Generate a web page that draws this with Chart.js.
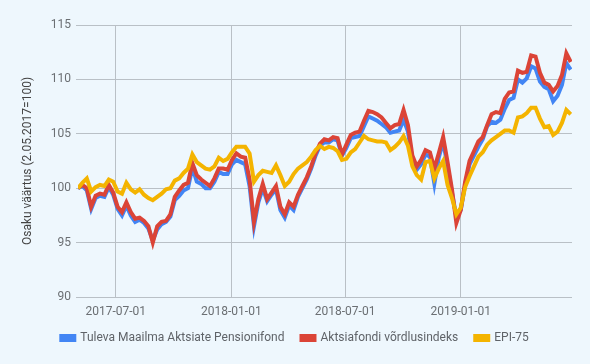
<!DOCTYPE html>
<html>
<head>
<meta charset="utf-8">
<script src="https://cdn.jsdelivr.net/npm/chart.js@4"></script>
<style>
  html, body { margin: 0; padding: 0; background: #eef7fd; }
  #wrap { width: 590px; height: 364px; }
</style>
</head>
<body>
<div id="wrap"><canvas id="chart" width="590" height="364"></canvas></div>
<script>
// weekly points starting 2017-05-02
const startDate = '2017-05-02';
const seriesNames = ['Tuleva Maailma Aktsiate Pensionifond', 'Aktsiafondi võrdlusindeks', 'EPI-75'];

const tuleva = [
  100.0, 100.2, 99.8, 98.1, 99.1, 99.3, 99.2, 100.1, 99.4, 98.1, 97.5, 98.4, 97.5, 96.9, 97.1, 96.8, 96.3, 95.2, 96.2, 96.7, 96.9, 97.4, 98.9,
  99.3, 99.8, 100.0, 101.9, 100.6, 100.4, 100.0, 100.0, 100.6, 101.5, 101.3, 101.3, 102.2, 102.6, 102.4, 102.2, 100.2, 96.5, 98.7, 100.0, 98.8, 99.4,
  99.9, 98.0, 97.3, 98.4, 98.0, 99.2, 100.0, 100.8, 101.8, 103.0, 103.9, 104.2, 104.2, 104.5, 104.4, 103.0, 103.7, 104.6, 104.7, 104.8, 105.7, 106.6, 106.4,
  106.2, 105.9, 105.6, 105.1, 105.2, 105.3, 106.3, 105.2, 102.6, 101.7, 102.2, 103.1, 102.9, 100.4, 102.8, 104.3, 102.0, 99.6, 97.4, 98.0, 100.3,
  102.2, 103.0, 103.8, 104.5, 105.7, 106.1, 106.0, 106.3, 107.3, 108.1, 108.3, 110.0, 109.7, 110.1, 111.2, 111.0, 109.8, 109.3, 109.1, 108.0, 108.5, 109.5, 111.5, 110.9
];

const vordlusindeks = [
  100.0, 100.3, 100.0, 98.3, 99.3, 99.5, 99.4, 100.3, 99.6, 98.3, 97.8, 98.7, 97.8, 97.2, 97.3, 97.0, 96.5, 95.0, 96.5, 96.9, 97.0, 97.6, 99.2,
  99.8, 100.3, 100.5, 102.3, 101.2, 100.8, 100.5, 100.2, 100.9, 101.8, 101.8, 101.7, 102.6, 103.2, 102.9, 102.8, 100.8, 96.9, 99.0, 100.4, 99.0, 99.6,
  100.2, 98.3, 97.6, 98.7, 98.3, 99.4, 100.2, 101.0, 102.0, 103.2, 104.1, 104.5, 104.4, 104.7, 104.6, 103.1, 104.0, 104.9, 105.1, 105.2, 106.2, 107.1, 107.0,
  106.8, 106.5, 106.0, 105.5, 105.8, 105.9, 107.2, 105.8, 103.0, 102.0, 102.6, 103.5, 103.3, 101.8, 103.2, 104.7, 102.4, 99.9, 96.8, 98.0, 100.6,
  102.5, 103.4, 104.3, 104.7, 105.8, 106.8, 107.0, 106.9, 108.2, 108.8, 108.9, 110.8, 110.6, 110.7, 112.2, 112.1, 110.6, 109.7, 109.5, 108.9, 109.4, 110.4, 112.4, 111.6
];

const epi75 = [
  100.0, 100.5, 100.9, 99.7, 100.1, 100.3, 100.2, 100.8, 100.6, 99.7, 99.5, 100.5, 99.9, 99.6, 99.9, 99.4, 99.1, 98.9, 99.2, 99.5, 99.9, 100.0, 100.7,
  100.9, 101.4, 101.8, 103.1, 102.4, 102.1, 101.8, 101.7, 102.0, 102.8, 102.5, 102.7, 103.3, 103.8, 103.8, 103.8, 103.2, 100.6, 101.2, 101.6, 101.5, 101.4,
  102.1, 101.2, 100.2, 100.6, 101.3, 101.8, 102.1, 102.4, 102.9, 103.5, 103.9, 103.6, 103.8, 103.7, 103.4, 102.6, 102.7, 103.3, 103.6, 104.2, 104.8, 104.5, 104.4,
  104.3, 104.3, 104.2, 103.5, 103.8, 104.2, 104.8, 103.9, 102.0, 101.2, 100.8, 102.4, 102.5, 100.9, 101.8, 102.5, 100.3, 99.1, 97.6, 98.2, 100.1,
  101.1, 102.0, 102.9, 103.3, 104.0, 104.4, 104.7, 105.0, 105.3, 105.3, 105.1, 106.5, 106.6, 106.9, 107.4, 107.4, 106.4, 105.6, 105.7, 104.9, 105.2, 106.0, 107.2, 106.8
];

const xTickLabels = ['2017-07-01', '2018-01-01', '2018-07-01', '2019-01-01'];
const yTicks = [90, 95, 100, 105, 110, 115];
const yTitle = 'Osaku väärtus (2.05.2017=100)';

const DAY = 86400000;
const dayOf = s => Math.round((Date.parse(s + 'T00:00:00Z') - Date.parse(startDate + 'T00:00:00Z')) / DAY);
const toPoints = arr => arr.map((v, i) => ({ x: i * 7, y: v }));

const gridColor = '#b9c0c6';
const font = { family: 'Roboto', size: 12 };

const ctx = document.getElementById('chart');
new Chart(ctx, {
    type: 'line',
    data: {
        datasets: [
            { label: seriesNames[0], data: toPoints(tuleva), borderColor: '#4285f4', backgroundColor: '#4285f4', order: 3 },
            { label: seriesNames[1], data: toPoints(vordlusindeks), borderColor: '#db4437', backgroundColor: '#db4437', order: 2 },
            { label: seriesNames[2], data: toPoints(epi75), borderColor: '#f4b400', backgroundColor: '#f4b400', order: 1 }
        ]
    },
    options: {
        responsive: false,
        animation: false,
        layout: { padding: { top: 25, right: 0, bottom: 10, left: 0 } },
        elements: {
            line: { borderWidth: 4, tension: 0, borderJoinStyle: 'miter' },
            point: { radius: 0 }
        },
        scales: {
            x: {
                type: 'linear',
                min: 0,
                max: 786,
                border: { display: false },
                grid: { color: gridColor, lineWidth: 1, drawTicks: false },
                afterBuildTicks: scale => {
                    scale.ticks = xTickLabels.map(s => ({ value: dayOf(s) }));
                },
                ticks: {
                    font: font,
                    color: '#6b6f73',
                    padding: 8,
                    maxRotation: 0,
                    autoSkip: false,
                    callback: (value) => {
                        const idx = xTickLabels.findIndex(s => dayOf(s) === value);
                        return idx >= 0 ? xTickLabels[idx] : '';
                    }
                },
                afterFit: scale => { scale.height = 18; }
            },
            y: {
                min: 90,
                max: 115,
                border: { display: false },
                grid: { color: gridColor, lineWidth: 1, tickLength: 2 },
                afterBuildTicks: scale => {
                    scale.ticks = yTicks.map(v => ({ value: v }));
                },
                ticks: { font: font, color: '#6b6f73', padding: 5 },
                title: {
                    display: true,
                    text: yTitle,
                    font: font,
                    color: '#444',
                    padding: { top: 21, bottom: 0 }
                },
                afterFit: scale => { scale.width = 78; }
            },
            // empty right-hand gutter so the legend stays centred on the canvas
            gutter: {
                type: 'linear',
                position: 'right',
                display: true,
                border: { display: false },
                grid: { display: false },
                ticks: { display: false },
                afterFit: scale => { scale.width = 18; }
            }
        },
        plugins: {
            tooltip: { enabled: false },
            legend: {
                position: 'bottom',
                labels: {
                    font: font,
                    color: '#5f6368',
                    boxWidth: 13,
                    boxHeight: 4,
                    padding: 17,
                    sort: (a, b) => a.datasetIndex - b.datasetIndex
                }
            }
        }
    }
});
</script>
</body>
</html>
